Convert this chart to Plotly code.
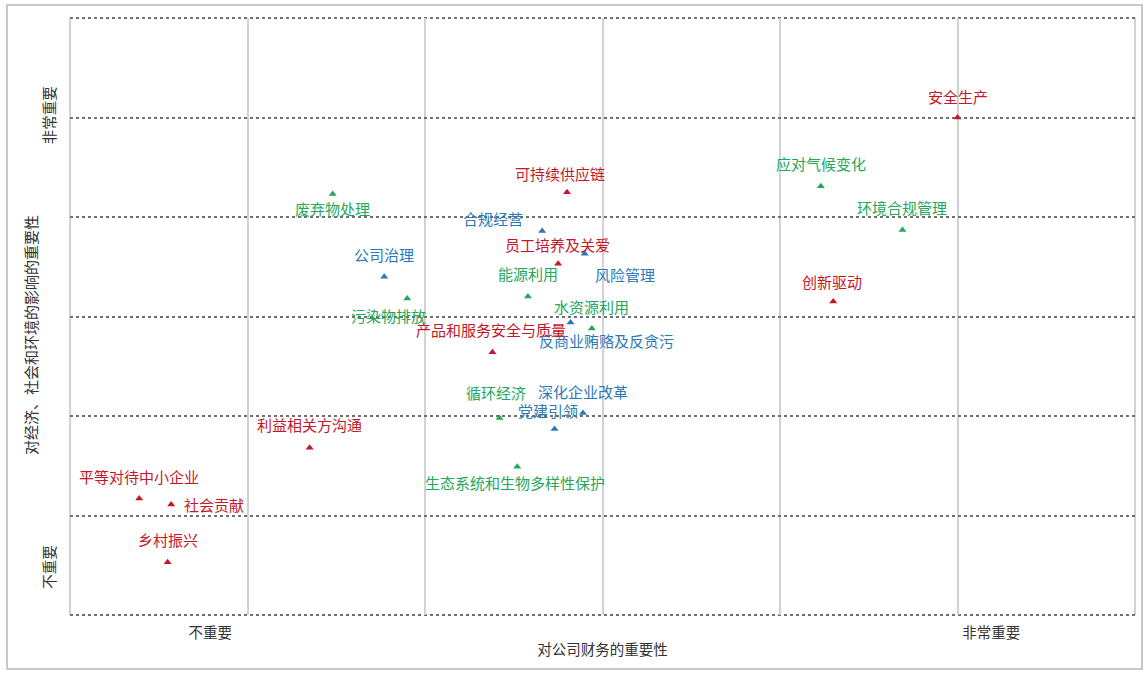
import plotly.graph_objects as go

# ---- data ----
topics = ["安全生产", "应对气候变化", "环境合规管理", "创新驱动", "可持续供应链", "合规经营",
          "员工培养及关爱", "风险管理", "能源利用", "水资源利用", "反商业贿赂及反贪污",
          "产品和服务安全与质量", "废弃物处理", "公司治理", "污染物排放", "循环经济",
          "深化企业改革", "党建引领", "生态系统和生物多样性保护", "利益相关方沟通",
          "平等对待中小企业", "社会贡献", "乡村振兴"]
categories = ["社会", "环境", "环境", "社会", "社会", "治理",
              "社会", "治理", "环境", "环境", "治理",
              "社会", "环境", "治理", "环境", "环境",
              "治理", "治理", "环境", "社会",
              "社会", "社会", "社会"]
finance_importance = [5.00, 4.23, 4.69, 4.30, 2.80, 2.66,
                      2.75, 2.90, 2.58, 2.94, 2.82,
                      2.38, 1.48, 1.77, 1.90, 2.42,
                      2.89, 2.73, 2.52, 1.35,
                      0.39, 0.57, 0.55]
impact_importance = [5.00, 4.31, 3.87, 3.15, 4.25, 3.86,
                     3.53, 3.63, 3.20, 2.88, 2.94,
                     2.64, 4.23, 3.40, 3.18, 1.98,
                     2.03, 1.87, 1.49, 1.68,
                     1.17, 1.11, 0.53]
x_tick_vals = [0.79, 5.19]
x_tick_text = ["不重要", "非常重要"]
y_tick_vals = [0.46, 5.0]
y_tick_text = ["不重要", "非常重要"]
x_title = "对公司财务的重要性"
y_title = "对经济、社会和环境的影响的重要性"

# ---- style ----
colors = {"社会": "#c3172a", "环境": "#25a75a", "治理": "#2a78b8"}
# label offsets in pixels (dx right, dy down) relative to each marker
label_dx = [0, 0, 0, -1, -7, -49, -1, 40, 0, 0, 36, -1, 0, 0, -19, -4, 0, -7, -2, 0, 0, 43, 0]
label_dy = [-21, -23, -22, -20, -19, -12, -19, 21, -23, -22, 18, -23, 14, -22, 17, -25, -22, -18, 16, -23, -22, 0, -23]

FONT = "Noto Sans CJK SC, Microsoft YaHei, sans-serif"
W, H = 1146, 673
ML, MR, MT, MB = 70, 11, 18, 58
VGRID = "#d2d2d2"
HGRID = "#707070"

fig = go.Figure()
for cat in ["社会", "环境", "治理"]:
    idx = [i for i, c in enumerate(categories) if c == cat]
    fig.add_trace(go.Scatter(
        x=[finance_importance[i] for i in idx],
        y=[impact_importance[i] for i in idx],
        mode="markers",
        marker=dict(symbol="triangle-up", size=7, color=colors[cat]),
        name=cat, showlegend=False, hoverinfo="text",
        text=[topics[i] for i in idx],
    ))

for i, t in enumerate(topics):
    fig.add_annotation(
        x=finance_importance[i], y=impact_importance[i], text=t, showarrow=False,
        xshift=label_dx[i], yshift=-label_dy[i],
        font=dict(family=FONT, size=15, color=colors[categories[i]]),
        xanchor="center", yanchor="middle",
    )

grid_common = dict(zeroline=False, showline=False, ticks="", fixedrange=True)
fig.update_xaxes(
    range=[0, 6], tickmode="array", tickvals=x_tick_vals, ticktext=x_tick_text,
    showgrid=False, ticklabelstandoff=7,
    minor=dict(tickmode="linear", tick0=0, dtick=1, showgrid=True, gridcolor=VGRID, gridwidth=2),
    tickfont=dict(family=FONT, size=14.5, color="#333333"),
    title=dict(text=x_title, font=dict(family=FONT, size=14.5, color="#333333"), standoff=4),
    **grid_common,
)
fig.update_yaxes(
    range=[0, 6], tickmode="array", tickvals=y_tick_vals, ticktext=y_tick_text,
    showgrid=False, tickangle=-90, ticklabelstandoff=11,
    minor=dict(tickmode="linear", tick0=0, dtick=1, showgrid=True, gridcolor=HGRID, gridwidth=2, griddash="dot"),
    tickfont=dict(family=FONT, size=14.5, color="#333333"),
    **grid_common,
)

# plot-area edges: solid grey on left/right, dotted on top/bottom
for xe in (0, 1):
    fig.add_shape(type="line", xref="paper", yref="paper", x0=xe, x1=xe, y0=0, y1=1,
                  line=dict(color=VGRID, width=2), layer="below")
for ye in (0, 1):
    fig.add_shape(type="line", xref="paper", yref="paper", x0=0, x1=1, y0=ye, y1=ye,
                  line=dict(color=HGRID, width=2, dash="dot"), layer="below")

pw, ph = W - ML - MR, H - MT - MB
def px2paper_x(px):
    return (px - ML) / pw
def py2paper_y(py):
    return (H - MB - py) / ph

# y-axis title (placed slightly below the plot centre, as in the original)
fig.add_annotation(xref="paper", yref="paper", x=px2paper_x(30), y=py2paper_y(335),
                   text=y_title, textangle=-90, showarrow=False,
                   xanchor="center", yanchor="middle",
                   font=dict(family=FONT, size=15, color="#333333"))

# outer frame around the whole figure
fig.add_shape(type="rect", xref="paper", yref="paper",
              x0=px2paper_x(7), x1=px2paper_x(1142), y0=py2paper_y(669), y1=py2paper_y(5),
              line=dict(color="#c8c8c8", width=2), layer="below")

fig.update_layout(
    width=W, height=H,
    margin=dict(l=ML, r=MR, t=MT, b=MB),
    paper_bgcolor="white", plot_bgcolor="white",
    font=dict(family=FONT),
)

fig.write_html("out.html", config={"displayModeBar": False},
               post_script="document.body.style.margin='0';")
